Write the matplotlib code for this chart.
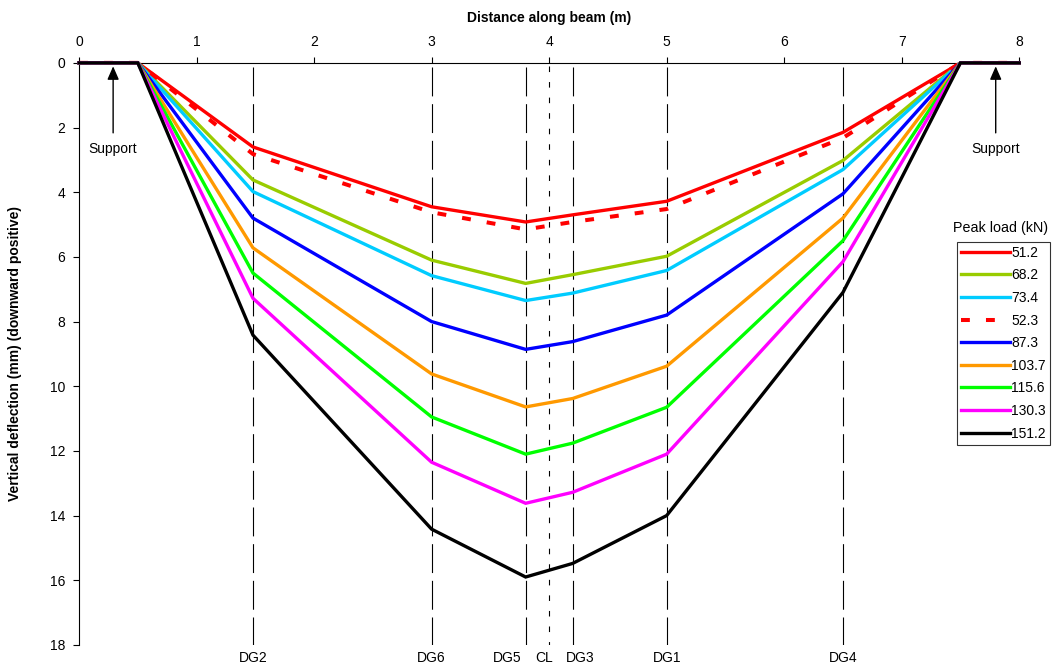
import matplotlib.pyplot as plt
import numpy as np

plt.rcParams['font.family'] = ['Liberation Sans', 'DejaVu Sans']

# measurement positions along beam (m): support ends, gauges DG2, DG6, DG5, DG3, DG1, DG4
x_pos = [0.0, 0.5, 1.48, 3.0, 3.8, 4.2, 5.0, 6.5, 7.5, 8.0]

loads = ["51.2", "68.2", "73.4", "52.3", "87.3", "103.7", "115.6", "130.3", "151.2"]
colors = ["#ff0000", "#99cc00", "#00ccff", "#ff0000", "#0000ff",
          "#ff9900", "#00ff00", "#ff00ff", "#000000"]
styles = ["-", "-", "-", (0, (2.2, 4.0)), "-", "-", "-", "-", "-"]

# deflections at DG2, DG6, DG5, DG3, DG1, DG4 (mm)
defl = {
    "51.2": [2.6, 4.45, 4.92, 4.7, 4.28, 2.15],
    "68.2": [3.62, 6.1, 6.82, 6.55, 5.98, 3.02],
    "73.4": [3.98, 6.58, 7.35, 7.12, 6.42, 3.3],
    "52.3": [2.82, 4.62, 5.15, 4.92, 4.52, 2.32],
    "87.3": [4.8, 8.0, 8.86, 8.62, 7.8, 4.05],
    "103.7": [5.72, 9.62, 10.64, 10.38, 9.38, 4.8],
    "115.6": [6.5, 10.95, 12.1, 11.76, 10.65, 5.5],
    "130.3": [7.28, 12.35, 13.62, 13.28, 12.1, 6.15],
    "151.2": [8.42, 14.42, 15.9, 15.48, 14.0, 7.1],
}

gauges = ["DG2", "DG6", "DG5", "DG3", "DG1", "DG4"]
gauge_x = [1.48, 3.0, 3.8, 4.2, 5.0, 6.5]
label_x = [1.48, 3.0, 3.64, 4.26, 5.0, 6.5]
cl_x = 4.0

fig = plt.figure(figsize=(10.54, 6.69), dpi=100)
ax = fig.add_axes([0.075, 0.036, 0.892, 0.870])

# gauge lines
for gx, lx, g in zip(gauge_x, label_x, gauges):
    ax.plot([gx, gx], [0.12, 18], color="black", lw=0.8, ls=(0, (26, 7)), zorder=1)
    ax.text(lx, 18.2, g, ha="center", va="top", fontsize=10, clip_on=False)
ax.plot([cl_x, cl_x], [0.1, 18], color="black", lw=0.8, ls=(0, (5, 9)), zorder=1)
ax.text(3.96, 18.2, "CL", ha="center", va="top", fontsize=10, clip_on=False)

handles = []
for lab, c, s in zip(loads, colors, styles):
    y = [0, 0] + defl[lab] + [0, 0]
    lw = 2.9 if lab == "52.3" else 2.4
    h, = ax.plot(x_pos, y, color=c, ls=s, lw=lw, solid_joinstyle="miter",
                 clip_on=False, zorder=3, label=lab)
    handles.append(h)

# supports
for sx in [0.29, 7.8]:
    ax.annotate("", xy=(sx, 0.02), xytext=(sx, 2.25),
                arrowprops=dict(arrowstyle="-|>,head_width=0.35,head_length=0.8",
                                color="black", lw=1), zorder=4)
    ax.text(sx, 2.65, "Support", ha="center", va="center", fontsize=10)

ax.set_xlim(0, 8)
ax.set_ylim(18, 0)
ax.xaxis.tick_top()
ax.xaxis.set_label_position("top")
ax.set_xticks(range(0, 9))
ax.set_yticks(range(0, 19, 2))
ax.tick_params(labelsize=10, length=4, width=0.8, pad=6)
ax.spines["right"].set_visible(False)
ax.spines["bottom"].set_visible(False)
ax.set_xlabel("Distance along beam (m)", fontsize=10, fontweight="bold", labelpad=9)
ax.set_ylabel("Vertical deflection (mm) (downward positive)", fontsize=10,
              fontweight="bold", labelpad=20)

leg = fig.legend(handles=handles, loc="upper left", bbox_to_anchor=(0.908, 0.639),
                 frameon=True, fancybox=False, edgecolor="black", fontsize=10,
                 handlelength=3.5, handletextpad=0.1, labelspacing=0.62,
                 borderpad=0.3, borderaxespad=0)
leg.get_frame().set_linewidth(0.8)
fig.text(0.904, 0.659, "Peak load (kN)", fontsize=10.3, ha="left", va="center")

fig.savefig("out.png", dpi=100)
